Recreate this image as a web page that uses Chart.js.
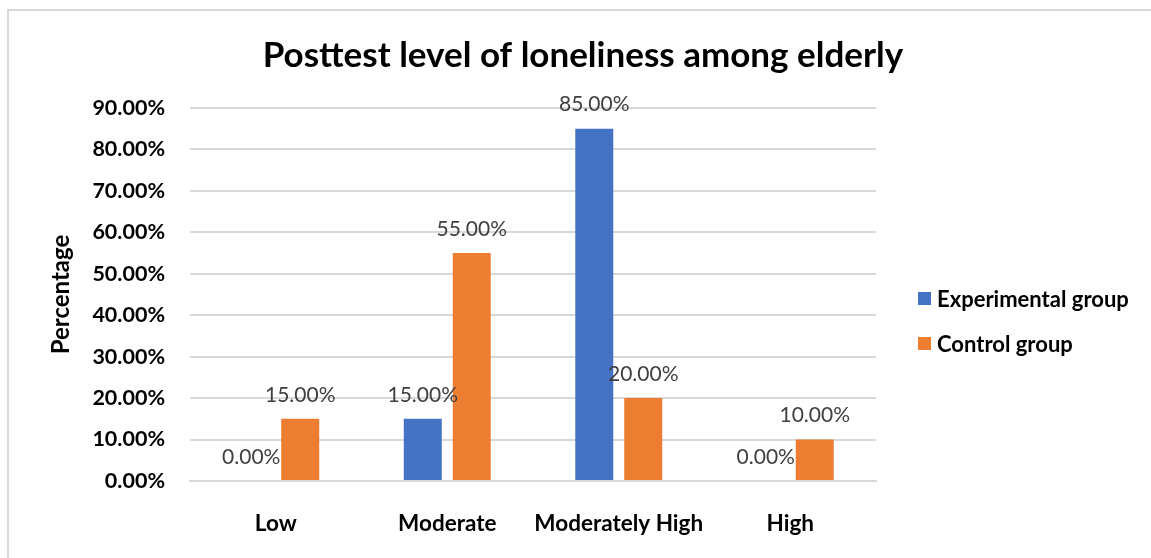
<!DOCTYPE html>
<html>
<head>
<meta charset="utf-8">
<script src="https://cdn.jsdelivr.net/npm/chart.js@4.4.1/dist/chart.umd.min.js"></script>
<style>
  html, body { margin: 0; padding: 0; background: #fff; }
  #wrap { position: relative; width: 1151px; height: 558px; overflow: hidden; background: #fff; }
  #frame { position: absolute; left: 7px; top: 9px; width: 1300px; height: 700px;
           border-left: 2px solid #d9d9d9; border-top: 2px solid #d9d9d9; }
  canvas { position: absolute; left: 0; top: 0; }
</style>
</head>
<body>
<div id="wrap">
  <div id="frame"></div>
  <canvas id="chart" width="1151" height="558"></canvas>
</div>
<script>
// Loneliness levels after the intervention (percent of each group)
const categories = ['Low', 'Moderate', 'Moderately High', 'High'];
const experimentalGroup = [0, 15, 85, 0];
const controlGroup = [15, 55, 20, 10];
const seriesNames = ['Experimental group', 'Control group'];
const seriesColors = ['#4472C4', '#ED7D31'];
const yTicks = [0, 10, 20, 30, 40, 50, 60, 70, 80, 90];
const chartTitle = 'Posttest level of loneliness among elderly';

const FONT = 'Lato';

const pct = v => v.toFixed(2) + '%';

// Title centred across the whole chart frame
const frameTitle = {
  id: 'frameTitle',
  afterDraw(chart) {
    const ctx = chart.ctx;
    ctx.save();
    ctx.font = 'bold 35px ' + FONT;
    ctx.fillStyle = '#000';
    ctx.textAlign = 'center';
    ctx.textBaseline = 'middle';
    ctx.fillText(chartTitle, 583, 56);
    ctx.restore();
  }
};

// Value labels above each bar
const valueLabels = {
  id: 'valueLabels',
  afterDatasetsDraw(chart) {
    const ctx = chart.ctx;
    ctx.save();
    ctx.font = '21px ' + FONT;
    ctx.fillStyle = '#404040';
    ctx.textAlign = 'center';
    ctx.textBaseline = 'middle';
    chart.data.datasets.forEach((ds, i) => {
      const meta = chart.getDatasetMeta(i);
      meta.data.forEach((bar, j) => {
        ctx.fillText(pct(ds.data[j]), bar.x, bar.y - 24);
      });
    });
    ctx.restore();
  }
};

// Legend on the right side of the plot
const sideLegend = {
  id: 'sideLegend',
  afterDraw(chart) {
    const ctx = chart.ctx;
    const area = chart.chartArea;
    const x = area.right + 42;
    const rows = [298.5, 343.5];
    ctx.save();
    ctx.font = 'bold 22px ' + FONT;
    ctx.textAlign = 'left';
    ctx.textBaseline = 'middle';
    chart.data.datasets.forEach((ds, i) => {
      const cy = rows[i];
      ctx.fillStyle = ds.backgroundColor;
      ctx.fillRect(x, cy - 6.5, 13, 13);
      ctx.fillStyle = '#000';
      ctx.fillText(ds.label, x + 19, cy + 1);
    });
    ctx.restore();
  }
};

new Chart(document.getElementById('chart'), {
  type: 'bar',
  data: {
    labels: categories,
    datasets: [
      { label: seriesNames[0], data: experimentalGroup, backgroundColor: seriesColors[0] },
      { label: seriesNames[1], data: controlGroup, backgroundColor: seriesColors[1] }
    ]
  },
  options: {
    responsive: false,
    animation: false,
    devicePixelRatio: 1,
    categoryPercentage: 0.571,
    barPercentage: 0.776,
    layout: { padding: { left: 40, right: 275, top: 108, bottom: 0 } },
    plugins: {
      legend: { display: false },
      tooltip: { enabled: false },
      title: { display: false }
    },
    scales: {
      x: {
        grid: { display: false },
        border: { color: '#d9d9d9', width: 2 },
        ticks: {
          color: '#000',
          font: { family: FONT, size: 22.5, weight: 'bold' },
          padding: 21,
          autoSkip: false,
          maxRotation: 0,
          minRotation: 0
        },
        afterFit(scale) { scale.height = 77; }
      },
      y: {
        min: 0,
        max: 90,
        afterBuildTicks(scale) { scale.ticks = yTicks.map(v => ({ value: v })); },
        ticks: {
          color: '#000',
          font: { family: FONT, size: 21.5, weight: 'bold' },
          padding: 25,
          callback: v => pct(v)
        },
        grid: { color: '#d9d9d9', lineWidth: 2, drawTicks: false },
        border: { display: false },
        title: {
          display: true,
          text: 'Percentage',
          color: '#000',
          font: { family: FONT, size: 24, weight: 'bold' },
          padding: { top: 6.5, bottom: 0 }
        },
        afterFit(scale) { scale.width = 150; }
      }
    }
  },
  plugins: [valueLabels, sideLegend, frameTitle]
});
</script>
</body>
</html>
